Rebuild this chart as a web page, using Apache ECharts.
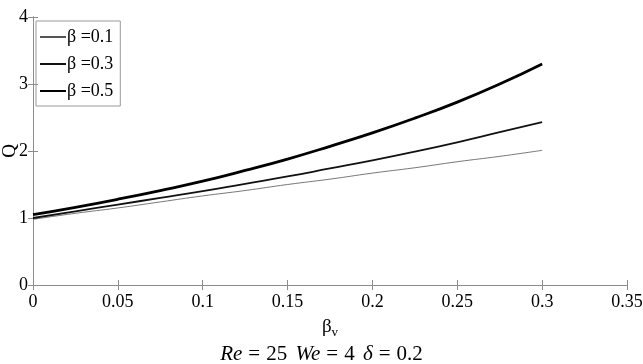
<!DOCTYPE html>
<html>
<head>
<meta charset="utf-8">
<script src="https://cdn.jsdelivr.net/npm/echarts@6/dist/echarts.min.js"></script>
<style>html,body{margin:0;padding:0;background:#fff}#c{width:643px;height:364px}</style>
</head>
<body>
<div id="c"></div>
<script>
var betaV = [0, 0.025, 0.05, 0.075, 0.1, 0.125, 0.15, 0.175, 0.2, 0.225, 0.25, 0.275, 0.3];
var q01 = [0.98, 1.07, 1.15, 1.24, 1.33, 1.41, 1.50, 1.58, 1.67, 1.75, 1.84, 1.92, 2.01];
var q03 = [1.00, 1.10, 1.20, 1.30, 1.40, 1.51, 1.62, 1.74, 1.86, 1.99, 2.13, 2.28, 2.43];
var q05 = [1.05, 1.16, 1.28, 1.41, 1.55, 1.71, 1.88, 2.07, 2.27, 2.49, 2.73, 3.00, 3.30];
var seriesNames = ['β =0.1', 'β =0.3', 'β =0.5'];
var xTicks = {min: 0, max: 0.35, interval: 0.05};
var yTicks = {min: 0, max: 4, interval: 1};

function pairs(ys){ return betaV.map(function(x,i){ return [x, ys[i]]; }); }

var font = '"Liberation Serif", "Times New Roman", serif';
var axisColor = '#8c8c8c';
var chart = echarts.init(document.getElementById('c'));
var baseX = {
  type: 'value', min: xTicks.min, max: xTicks.max, interval: xTicks.interval,
  axisLine: {show: true, lineStyle: {color: axisColor, width: 1}},
  axisTick: {show: true, inside: true, length: 5, lineStyle: {color: axisColor}},
  splitLine: {show: false}
};
var baseY = {
  type: 'value', min: yTicks.min, max: yTicks.max, interval: yTicks.interval,
  axisLine: {show: true, lineStyle: {color: axisColor, width: 1}},
  axisTick: {show: true, inside: true, length: 5, lineStyle: {color: axisColor}},
  splitLine: {show: false}
};
var option = {
  animation: false,
  backgroundColor: '#fff',
  textStyle: {fontFamily: font},
  title: {
    text: '{i|Re}{e|=}{n|25}{g| }{i|We}{e|=}{n|4}{g| }{i|δ}{e|=}{n|0.2}',
    left: 'center', top: 339,
    textStyle: {
      fontFamily: font, fontSize: 21, fontWeight: 'normal', color: '#000',
      rich: {
        i: {fontFamily: font, fontSize: 21, fontStyle: 'italic', color: '#000'},
        n: {fontFamily: font, fontSize: 21, color: '#000'},
        e: {fontFamily: font, fontSize: 21, color: '#000', padding: [0, 6, 0, 6]},
        g: {fontFamily: font, fontSize: 21, color: '#000', padding: [0, 3, 0, 0]}
      }
    }
  },
  grid: {left: 33, right: 16, top: 17, bottom: 79, containLabel: false, outerBoundsMode: 'none'},
  legend: {
    orient: 'vertical', left: 36, top: 21,
    data: seriesNames.map(function(n){ return {name: n, itemStyle: {opacity: 0}}; }),
    itemWidth: 26, itemHeight: 10, itemGap: 9,
    padding: [7, 7, 6, 3],
    borderColor: '#999', borderWidth: 1,
    textStyle: {fontFamily: font, fontSize: 18, color: '#000', padding: [0,0,0,-4]}
  },
  xAxis: [
    Object.assign({}, baseX, {
      position: 'bottom',
      axisLabel: {show: true, fontFamily: font, fontSize: 18, color: '#000', margin: 8},
      name: '{b|β}{s|v}', nameLocation: 'middle', nameGap: 31, nameMoveOverlap: false,
      nameTextStyle: {
        fontFamily: font,
        rich: {
          b: {fontFamily: font, fontSize: 19, color: '#000'},
          s: {fontFamily: font, fontSize: 13, color: '#000', padding: [10, 0, 0, 0]}
        }
      }
    }),
    Object.assign({}, baseX, {position: 'top', axisLabel: {show: false}})
  ],
  yAxis: [
    Object.assign({}, baseY, {
      position: 'left',
      axisLabel: {show: true, fontFamily: font, fontSize: 18, color: '#000', margin: 5},
      name: 'Q', nameLocation: 'middle', nameGap: 13, nameRotate: 90, nameMoveOverlap: false,
      nameTextStyle: {fontFamily: font, fontSize: 19, color: '#000'}
    }),
    Object.assign({}, baseY, {position: 'right', axisLabel: {show: false}})
  ],
  series: [
    {name: seriesNames[0], type: 'line', data: pairs(q01), smooth: true, symbol: 'none',
     lineStyle: {color: '#555', width: 0.8}, itemStyle: {color: '#555'}},
    {name: seriesNames[1], type: 'line', data: pairs(q03), smooth: true, symbol: 'none',
     lineStyle: {color: '#111', width: 1.8}, itemStyle: {color: '#111'}},
    {name: seriesNames[2], type: 'line', data: pairs(q05), smooth: true, symbol: 'none',
     lineStyle: {color: '#000', width: 2.8}, itemStyle: {color: '#000'}}
  ]
};
chart.setOption(option);
</script>
</body>
</html>
